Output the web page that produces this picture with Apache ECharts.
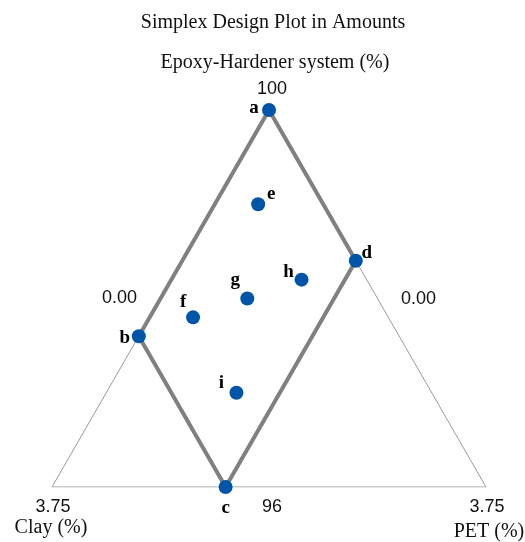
<!DOCTYPE html>
<html>
<head>
<meta charset="utf-8">
<script src="https://cdn.jsdelivr.net/npm/echarts@6/dist/echarts.min.js"></script>
<style>
  html, body { margin: 0; padding: 0; background: #fff; }
  #chart { width: 525px; height: 542px; }
</style>
</head>
<body>
<div id="chart"></div>
<script>
// Design runs: amounts (%) of each mixture component
const runLabels   = ['a', 'b', 'c', 'd', 'e', 'f', 'g', 'h', 'i'];
const epoxyAmount = [100, 97.75, 96.25, 98.5, 99.0625, 97.9375, 98.125, 98.3125, 97.1875];
const clayAmount  = [0, 2.25, 2.25, 0, 0.5625, 1.6875, 1.125, 0.5625, 1.6875];
const petAmount   = [0, 0, 1.5, 1.5, 0.375, 0.375, 0.75, 1.125, 1.125];

// Component bounds of the simplex (amounts, %)
const epoxyRange = [96.25, 100];
const clayRange  = [0, 3.75];
const petRange   = [0, 3.75];

// Labels printed at the simplex vertices and edge midpoints
const vertexTickLabels = ['100', '3.75', '3.75'];   // epoxy, clay, PET vertex
const edgeTickLabels   = ['0.00', '0.00', '96'];    // left edge, right edge, bottom edge
const componentNames   = ['Epoxy-Hardener system (%)', 'Clay (%)', 'PET (%)'];

// Design region boundary (run indices)
const regionOrder = [0, 1, 2, 3, 0];

// Pseudo-component fractions -> cartesian position inside the triangle
function toXY(epoxy, clay, pet) {
  const span = epoxyRange[1] - epoxyRange[0];
  const a = (epoxy - epoxyRange[0]) / span;
  const p = (pet - petRange[0]) / span;
  return [p + a / 2, a];
}

const runPoints = runLabels.map((l, i) => toXY(epoxyAmount[i], clayAmount[i], petAmount[i]));

const vTop   = toXY(epoxyRange[1], clayRange[0], petRange[0]);
const vLeft  = toXY(epoxyRange[0], clayRange[1], petRange[0]);
const vRight = toXY(epoxyRange[0], clayRange[0], petRange[1]);
const mid = (p, q) => [(p[0] + q[0]) / 2, (p[1] + q[1]) / 2];

const labelOffsets = {
  a: [-15, -2], b: [-14, 2], c: [0, 21], d: [11, -8], e: [13, -10],
  f: [-10, -15], g: [-12, -18], h: [-13, -8], i: [-15, -10]
};

const sansFont = 'Liberation Sans';
const serifFont = 'Liberation Serif';

function textPoint(coord, text, offset, font, size) {
  return {
    value: coord,
    label: {
      show: true, position: 'inside', offset: offset, formatter: text,
      fontFamily: font, fontSize: size, color: '#111'
    }
  };
}

const chart = echarts.init(document.getElementById('chart'), null, { renderer: 'canvas' });

chart.setOption({
  animation: false,
  backgroundColor: '#fff',
  title: [
    {
      text: 'Simplex Design Plot in Amounts',
      left: 268, top: 8, textAlign: 'center',
      textStyle: { fontFamily: serifFont, fontSize: 20, fontWeight: 'normal', color: '#111' }
    },
    {
      text: componentNames[0],
      left: 270, top: 48, textAlign: 'center',
      textStyle: { fontFamily: serifFont, fontSize: 20, fontWeight: 'normal', color: '#111' }
    }
  ],
  grid: { left: 52, right: 39, top: 110, bottom: 55 },
  xAxis: { type: 'value', min: 0, max: 1, show: false },
  yAxis: { type: 'value', min: 0, max: 1, show: false },
  series: [
    {
      name: 'simplex',
      type: 'line',
      data: [vTop, vLeft, vRight, vTop],
      symbol: 'none',
      lineStyle: { color: '#9a9a9a', width: 1 },
      z: 1
    },
    {
      name: 'design region',
      type: 'line',
      data: regionOrder.map(i => runPoints[i]),
      symbol: 'none',
      lineStyle: { color: '#808080', width: 4 },
      z: 2
    },
    {
      name: 'runs',
      type: 'scatter',
      symbol: 'circle',
      symbolSize: 14,
      itemStyle: { color: '#0055a8', opacity: 1 },
      data: runPoints.map((pt, i) => ({
        value: pt,
        label: {
          show: true, position: 'inside', formatter: runLabels[i],
          offset: labelOffsets[runLabels[i]],
          fontFamily: serifFont, fontWeight: 'bold', fontSize: 19, color: '#000'
        }
      })),
      z: 5
    },
    {
      name: 'tick labels',
      type: 'scatter',
      symbolSize: 0,
      silent: true,
      itemStyle: { opacity: 1 },
      data: [
        textPoint(vTop, vertexTickLabels[0], [3, -21], sansFont, 18),
        textPoint(vLeft, vertexTickLabels[1], [1, 20], sansFont, 18),
        textPoint(vRight, vertexTickLabels[2], [1, 20], sansFont, 18),
        textPoint(mid(vTop, vLeft), edgeTickLabels[0], [-41, 0], sansFont, 18),
        textPoint(mid(vTop, vRight), edgeTickLabels[1], [41, 1], sansFont, 18),
        textPoint(mid(vLeft, vRight), edgeTickLabels[2], [3, 20], sansFont, 18),
        textPoint(vLeft, componentNames[1], [-1, 41], serifFont, 20),
        textPoint(vRight, componentNames[2], [3, 45], serifFont, 20)
      ],
      z: 6
    }
  ]
});
</script>
</body>
</html>
